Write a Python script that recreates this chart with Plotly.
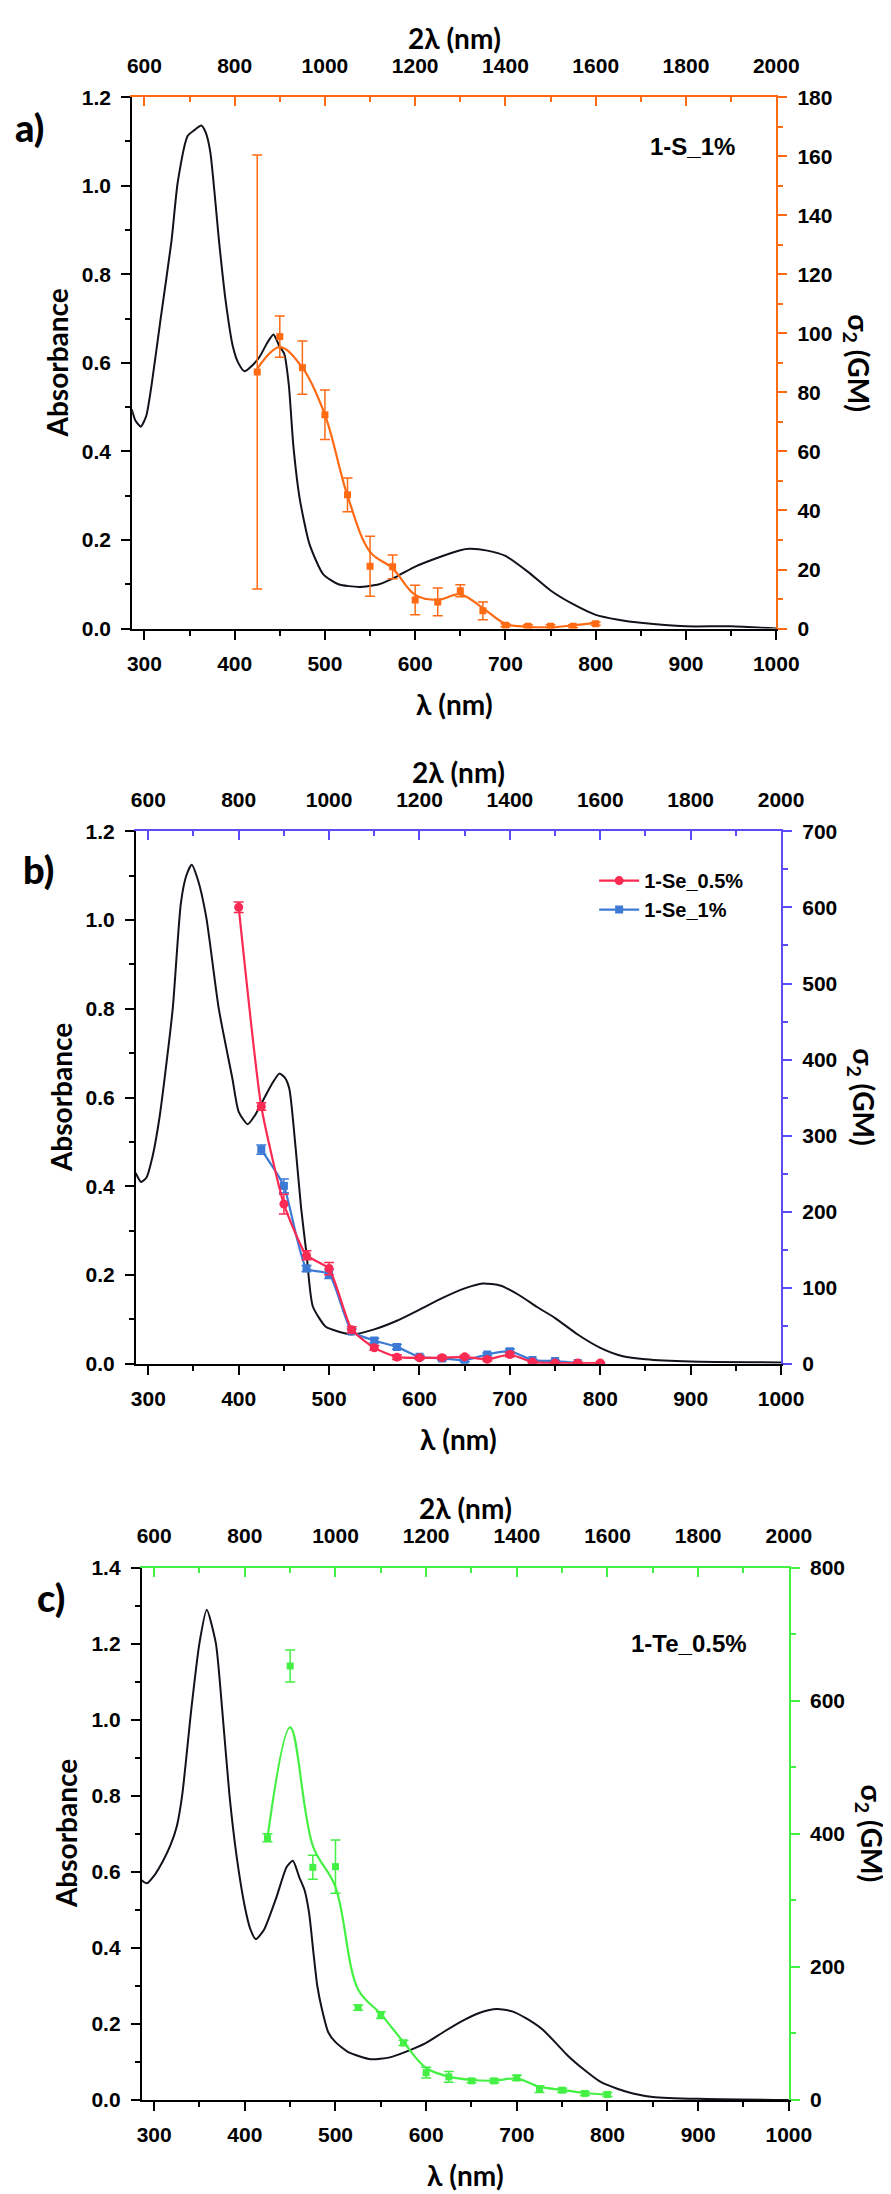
import plotly.graph_objects as go

W, H = 891, 2194

# ---------------- data ----------------
# panel a : 1-S_1%
abs_a_nm = [286, 290, 296, 302, 308, 318, 330, 337, 348, 355, 363, 368, 373, 383, 390, 398, 404, 411,
            420, 428, 436, 443, 449, 455, 460, 465, 472, 483, 498, 515, 538, 560, 580, 600, 625, 650,
            660, 680, 700, 725, 750, 775, 800, 825, 850, 900, 950, 1000]
abs_a = [0.495, 0.47, 0.456, 0.48, 0.551, 0.70, 0.875, 1.009, 1.113, 1.125, 1.136, 1.12, 1.076, 0.868,
         0.74, 0.637, 0.60, 0.581, 0.595, 0.615, 0.645, 0.664, 0.64, 0.62, 0.55, 0.413, 0.294, 0.19,
         0.123, 0.10, 0.094, 0.100, 0.118, 0.14, 0.16, 0.177, 0.180, 0.176, 0.164, 0.128, 0.086,
         0.055, 0.031, 0.02, 0.013, 0.005, 0.005, 0.0]
tpa_a_nm = [425, 450, 475, 500, 525, 550, 575, 600, 625, 650, 675, 700, 725, 750, 775, 800]
tpa_a = [86.9, 98.9, 88.4, 72.4, 45.3, 21.1, 20.9, 9.7, 9.0, 12.8, 6.0, 1.1, 0.8, 0.8, 0.8, 1.6]
tpa_a_err = [73.5, 7, 9, 8.4, 5.7, 10.2, 4, 5, 4.7, 2, 3, 0.5, 0.5, 0.5, 0.5, 0.5]
tpa_a_fit = [88, 95.3, 88.4, 72.4, 45, 26, 20.4, 11.4, 9.7, 11.6, 6.9, 1.6, 0.6, 0.4, 1.1, 1.9]

# panel b : 1-Se
abs_b_nm = [286, 292, 298, 305, 312, 318, 327, 336, 342, 348, 355, 364, 378, 393, 400, 410, 418, 427,
            438, 445, 451, 456, 463, 469, 475, 482, 496, 505, 525, 549, 575, 600, 625, 650, 670, 690,
            710, 730, 750, 775, 800, 825, 850, 900, 1000]
abs_b = [0.43, 0.41, 0.42, 0.47, 0.55, 0.643, 0.80, 1.038, 1.10, 1.125, 1.09, 1.008, 0.80, 0.643,
         0.568, 0.540, 0.56, 0.594, 0.635, 0.654, 0.645, 0.62, 0.486, 0.352, 0.248, 0.129, 0.084,
         0.076, 0.066, 0.077, 0.097, 0.122, 0.148, 0.17, 0.181, 0.176, 0.155, 0.128, 0.103, 0.066,
         0.036, 0.017, 0.010, 0.005, 0.003]
se05_nm = [400, 425, 450, 475, 500, 525, 550, 575, 600, 625, 650, 675, 700, 725, 750, 775, 800]
se05 = [600.3, 338.2, 210, 142.6, 125.2, 44.8, 20.9, 8.7, 7.8, 8, 9.1, 5.7, 12.2, 2.2, 1, 1, 1]
se05_err = [7, 5, 13, 6, 8, 4, 3, 3, 2, 2, 2, 2, 3, 1, 1, 1, 1]
se1_nm = [425, 450, 475, 500, 525, 550, 575, 600, 625, 650, 675, 700, 725, 750, 775]
se1 = [281.6, 233.9, 125.2, 118, 42.6, 30.5, 22.2, 9.1, 7, 4.8, 12.2, 16.5, 4.8, 3.5, 1]
se1_err = [6, 9, 4, 6, 3, 3, 3, 2, 2, 2, 2, 3, 1, 1, 1]

# panel c : 1-Te_0.5%
abs_c_nm = [285, 292, 300, 310, 318, 325, 331, 341, 350, 358, 368, 375, 383, 391, 400, 406, 412, 421,
            435, 446, 453, 460, 466, 471, 476, 480, 485, 492, 500, 514, 539, 560, 578, 600, 620, 640,
            660, 678, 695, 710, 728, 745, 756, 775, 792, 810, 828, 850, 900, 1000]
abs_c = [0.58, 0.57, 0.59, 0.63, 0.67, 0.72, 0.803, 1.028, 1.202, 1.289, 1.202, 1.028, 0.803, 0.64,
         0.508, 0.45, 0.423, 0.447, 0.534, 0.612, 0.629, 0.586, 0.551, 0.49, 0.38, 0.299, 0.239,
         0.178, 0.152, 0.126, 0.107, 0.112, 0.127, 0.150, 0.180, 0.208, 0.230, 0.239, 0.233, 0.215,
         0.186, 0.145, 0.117, 0.078, 0.048, 0.030, 0.017, 0.008, 0.003, 0.0]
te_nm = [425, 450, 475, 500, 525, 550, 575, 600, 625, 650, 675, 700, 725, 750, 775, 800]
te = [394, 652, 349.6, 350.6, 138.8, 127.4, 85.7, 41, 34.7, 28.7, 28.7, 33.2, 16.2, 14.7, 9.8, 8.3]
te_err = [6, 24, 18, 40, 4, 5, 4, 8, 8, 3, 3, 4, 5, 3, 3, 3]
te_fit = [394, 560, 382, 320, 166, 129, 87, 48, 35, 30, 29, 32, 20, 15, 10.5, 8]

top_ticks = [600, 800, 1000, 1200, 1400, 1600, 1800, 2000]

# ---------------- styling ----------------
ORANGE = '#ff6a13'
PURPLE = '#5b4bff'
GREEN = '#44f044'
RED = '#fa2a52'
BLUE = '#3c7ad6'
BLACK = '#10131a'
TICKFONT = dict(family='Liberation Sans', size=21, color='black', weight=700)
TITLEFONT = dict(family='Lato', size=28, color='black', weight=700)

# pixel boxes of each panel: left, right, top, bottom
panels = [
    dict(box=(123, 788, 78, 615), col=ORANGE, ymax=1.2, rmax=180, rdt=20),
    dict(box=(127, 793, 820, 1358), col=PURPLE, ymax=1.2, rmax=700, rdt=100),
    dict(box=(133, 801, 1564, 2102), col=GREEN, ymax=1.4, rmax=800, rdt=200),
]

fig = go.Figure()
annotations = []


def px(x):
    return x / W


def py(y):
    return 1 - y / H


def name(k):
    return '' if k == 1 else str(k)


for i, p in enumerate(panels):
    l, r, t, b = p['box']
    n = 2 * i
    xb, xt, yl, yr = n + 1, n + 2, n + 1, n + 2
    dom_x = [px(l), px(r)]
    dom_y = [py(b), py(t)]
    common = dict(showgrid=False, zeroline=False, showline=True, linewidth=2,
                  tickfont=TICKFONT, ticklen=9, tickwidth=2)
    fig.update_layout({
        'xaxis' + name(xb): dict(common, domain=dom_x, range=[286.4, 1000], anchor='y' + name(yl),
                                 linecolor='black', tickcolor='black', ticks='outside', dtick=100,
                                 tick0=300, ticklabelstandoff=6,
                                 minor=dict(ticks='outside', ticklen=5, dtick=50, tickcolor='black',
                                            tickwidth=2)),
        'xaxis' + name(xt): dict(common, domain=dom_x, range=[572.8, 2000], overlaying='x' + name(xb),
                                 side='top', anchor='y' + name(yl), linecolor=p['col'],
                                 tickcolor=p['col'], ticks='inside', dtick=200, tick0=600,
                                 ticklabelstandoff=14,
                                 minor=dict(ticks='inside', ticklen=5, dtick=100, tickcolor=p['col'],
                                            tickwidth=2)),
        'yaxis' + name(yl): dict(common, domain=dom_y, range=[0, p['ymax']], anchor='x' + name(xb),
                                 linecolor='black', tickcolor='black', ticks='outside', dtick=0.2,
                                 tickformat='.1f', ticklabelstandoff=6,
                                 minor=dict(ticks='outside', ticklen=5, dtick=0.1, tickcolor='black',
                                            tickwidth=2)),
        'yaxis' + name(yr): dict(common, domain=dom_y, range=[0, p['rmax']], overlaying='y' + name(yl),
                                 side='right', anchor='x' + name(xb), linecolor=p['col'],
                                 tickcolor=p['col'], ticks='outside', dtick=p['rdt'],
                                 ticklabelstandoff=6,
                                 minor=dict(ticks='outside', ticklen=5, dtick=p['rdt'] / 2,
                                            tickcolor=p['col'], tickwidth=2)),
    })
    # invisible helper so the top axis is drawn
    fig.add_trace(go.Scatter(x=top_ticks, y=[0] * len(top_ticks), xaxis='x' + name(xt),
                             yaxis='y' + name(yl), mode='markers', marker=dict(opacity=0),
                             showlegend=False, hoverinfo='skip'))
    p['axes'] = ('x' + name(xb), 'y' + name(yl), 'y' + name(yr))

    cx = (l + r) / 2
    cy = (t + b) / 2
    annotations += [
        dict(text='2λ (nm)', x=px(cx), y=py(t - 60), font=TITLEFONT),
        dict(text='λ (nm)', x=px(cx), y=py(b + 76), font=TITLEFONT),
        dict(text='Absorbance', x=px(l - 78), y=py(cy), textangle=-90, font=TITLEFONT),
        dict(text='σ<sub>2</sub> (GM)', x=px(r + 84), y=py(cy), textangle=90, font=TITLEFONT),
    ]

# panel a traces
xa, ya, ya2 = panels[0]['axes']
fig.add_trace(go.Scatter(x=abs_a_nm, y=abs_a, xaxis=xa, yaxis=ya, mode='lines', line_shape='spline',
                         line=dict(color=BLACK, width=2, smoothing=0.6), showlegend=False))
fig.add_trace(go.Scatter(x=tpa_a_nm, y=tpa_a_fit, xaxis=xa, yaxis=ya2, mode='lines', line_shape='spline',
                         line=dict(color=ORANGE, width=2.2, smoothing=1), showlegend=False))
fig.add_trace(go.Scatter(x=tpa_a_nm, y=tpa_a, xaxis=xa, yaxis=ya2, mode='markers',
                         marker=dict(symbol='square', size=7, color=ORANGE),
                         error_y=dict(type='data', array=tpa_a_err, color=ORANGE, thickness=1.5, width=5),
                         showlegend=False))

# panel b traces
xb_, yb, yb2 = panels[1]['axes']
fig.add_trace(go.Scatter(x=abs_b_nm, y=abs_b, xaxis=xb_, yaxis=yb, mode='lines', line_shape='spline',
                         line=dict(color=BLACK, width=2, smoothing=0.6), showlegend=False))
fig.add_trace(go.Scatter(x=se1_nm, y=se1, xaxis=xb_, yaxis=yb2, mode='lines+markers', name='1-Se_1%',
                         line=dict(color=BLUE, width=2.2, shape='spline', smoothing=0.5),
                         marker=dict(symbol='square', size=8, color=BLUE),
                         error_y=dict(type='data', array=se1_err, color=BLUE, thickness=1.5, width=5),
                         legendrank=2))
fig.add_trace(go.Scatter(x=se05_nm, y=se05, xaxis=xb_, yaxis=yb2, mode='lines+markers', name='1-Se_0.5%',
                         line=dict(color=RED, width=2.2, shape='spline', smoothing=0.5),
                         marker=dict(symbol='circle', size=9, color=RED),
                         error_y=dict(type='data', array=se05_err, color=RED, thickness=1.5, width=5),
                         legendrank=1))

# panel c traces
xc, yc, yc2 = panels[2]['axes']
fig.add_trace(go.Scatter(x=abs_c_nm, y=abs_c, xaxis=xc, yaxis=yc, mode='lines', line_shape='spline',
                         line=dict(color=BLACK, width=2, smoothing=0.6), showlegend=False))
fig.add_trace(go.Scatter(x=te_nm, y=te_fit, xaxis=xc, yaxis=yc2, mode='lines', line_shape='spline',
                         line=dict(color=GREEN, width=2.2, smoothing=1), showlegend=False))
fig.add_trace(go.Scatter(x=te_nm, y=te, xaxis=xc, yaxis=yc2, mode='markers',
                         marker=dict(symbol='square', size=7, color=GREEN),
                         error_y=dict(type='data', array=te_err, color=GREEN, thickness=1.5, width=5),
                         showlegend=False))

LABELFONT = dict(family='Lato', size=38, color='black', weight=900)
SAMPLEFONT = dict(family='Liberation Sans', size=24, color='black', weight=700)
annotations += [
    dict(text='a)', x=px(17), y=py(108), font=LABELFONT),
    dict(text='b)', x=px(26), y=py(858), font=LABELFONT),
    dict(text='c)', x=px(39), y=py(1594), font=LABELFONT),
    dict(text='1-S_1%', x=px(656), y=py(128), xanchor='left', font=SAMPLEFONT),
    dict(text='1-Te_0.5%', x=px(760), y=py(1641), xanchor='right', font=SAMPLEFONT),
]
for a in annotations:
    a.update(xref='paper', yref='paper', showarrow=False)
    a.setdefault('xanchor', 'center')
    a.setdefault('yanchor', 'middle')

fig.update_layout(
    width=W, height=H,
    margin=dict(l=0, r=0, t=0, b=0),
    plot_bgcolor='white', paper_bgcolor='white',
    annotations=annotations,
    legend=dict(x=px(600), y=py(850), xanchor='left', yanchor='top', bgcolor='rgba(0,0,0,0)',
                font=dict(family='Liberation Sans', size=20, color='black', weight=700),
                itemwidth=40, tracegroupgap=0),
)

fig.write_html('out.html')
